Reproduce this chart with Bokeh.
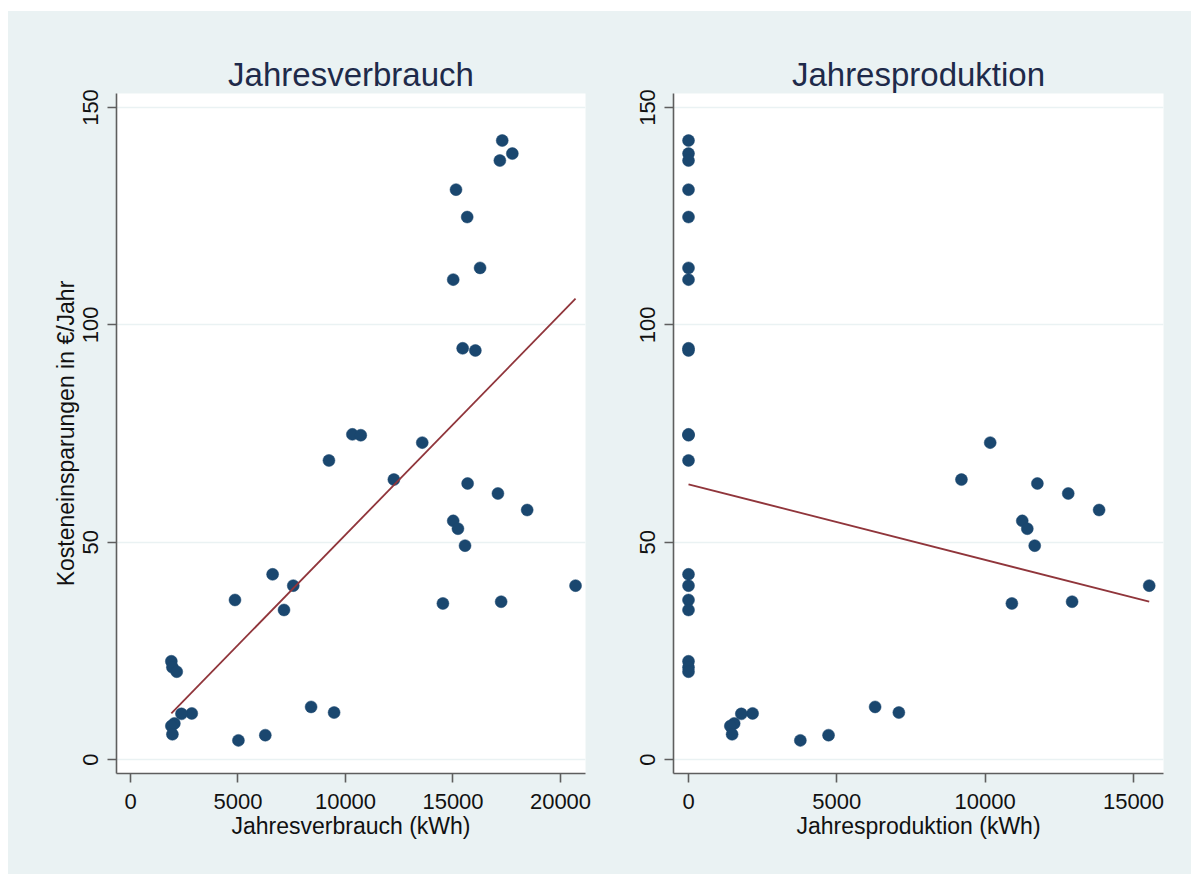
import numpy as np
from bokeh.plotting import figure
from bokeh.layouts import row, column
from bokeh.models import FixedTicker, Spacer, Range1d
from bokeh.embed import file_html
from bokeh.resources import INLINE

# ---- data ----
einsparung = [142.4, 139.4, 137.8, 131.1, 124.8, 113.1, 110.4, 94.6, 94.1,
              74.8, 74.6, 72.9, 68.8, 64.4, 63.5, 61.2, 57.4, 54.9, 53.1, 49.2,
              42.6, 40.0, 40.0, 36.7, 36.3, 35.9, 34.4, 22.6, 21.2, 20.2,
              12.1, 10.8, 10.6, 10.5, 8.3, 7.7, 5.8, 5.6, 4.4]
verbrauch = [17290, 17760, 17180, 15140, 15660, 16260, 15010, 15450, 16040,
             10320, 10710, 13570, 9230, 12250, 15680, 17090, 18450, 15010, 15230, 15560,
             6610, 7570, 20700, 4860, 17240, 14530, 7140, 1900, 1950, 2150,
             8400, 9470, 2850, 2370, 2040, 1900, 1950, 6270, 5020]
produktion = [0, 0, 0, 0, 0, 0, 0, 0, 0,
              0, 0, 10170, 0, 9200, 11760, 12800, 13840, 11250, 11420, 11670,
              0, 0, 15530, 0, 12930, 10900, 0, 0, 0, 0,
              6290, 7090, 2160, 1780, 1540, 1410, 1470, 4720, 3770]

titles = ["Jahresverbrauch", "Jahresproduktion"]
xlabels = ["Jahresverbrauch (kWh)", "Jahresproduktion (kWh)"]
ylabel = "Kosteneinsparungen in \u20ac/Jahr"
yticks = [0, 50, 100, 150]
xticks_left = [0, 5000, 10000, 15000, 20000]
xticks_right = [0, 5000, 10000, 15000]

BG = "#EAF2F3"
NAVY = "#1A476F"
MAROON = "#90353B"
FONT = "Liberation Sans"
H = 863


def panel(x, y, title, xlabel, xticks, xr, width, left, right, show_ylabel):
    p = figure(width=width, height=H, output_backend="svg", toolbar_location=None,
               x_range=Range1d(*xr), y_range=Range1d(-3.22, 153.22),
               min_border_left=left, min_border_right=right,
               min_border_top=82, min_border_bottom=H - 82 - 680)
    p.background_fill_color = "white"
    p.border_fill_color = BG
    p.outline_line_color = None

    p.title.text = title
    p.title.align = "center"
    p.title.text_font = FONT
    p.title.text_font_size = "33px"
    p.title.text_font_style = "normal"
    p.title.text_color = "#1E2A4A"
    p.title.standoff = 2

    p.xgrid.visible = False
    p.ygrid.grid_line_color = BG
    p.ygrid.grid_line_width = 1.5
    p.ygrid.ticker = FixedTicker(ticks=yticks)

    for ax in (p.xaxis[0], p.yaxis[0]):
        ax.axis_line_color = "#5E5E5E"
        ax.axis_line_width = 1.6
        ax.major_tick_line_color = "#5E5E5E"
        ax.major_tick_line_width = 1.6
        ax.major_tick_out = 9
        ax.major_tick_in = 0
        ax.minor_tick_line_color = None
        ax.major_label_text_font = FONT
        ax.major_label_text_font_size = "22px"
        ax.major_label_text_color = "#111111"
        ax.axis_label_text_font = FONT
        ax.axis_label_text_font_size = "23px"
        ax.axis_label_text_font_style = "normal"
        ax.axis_label_text_color = "#111111"

    p.xaxis.ticker = FixedTicker(ticks=xticks)
    p.xaxis.axis_label = xlabel
    p.xaxis.major_label_standoff = 11
    p.xaxis.axis_label_standoff = 1

    p.yaxis.ticker = FixedTicker(ticks=yticks)
    p.yaxis.major_label_orientation = "vertical"
    p.yaxis.major_label_standoff = 9
    if show_ylabel:
        p.yaxis.axis_label = ylabel
        p.yaxis.axis_label_standoff = 2

    xs = np.array(x, dtype=float)
    ys = np.array(y, dtype=float)
    p.scatter(xs, ys, size=12, fill_color=NAVY, line_color=NAVY, line_width=0.5)

    k, d = np.polyfit(xs, ys, 1)
    lx = np.array([xs.min(), xs.max()])
    p.line(lx, k * lx + d, line_color=MAROON, line_width=1.8)
    return p


p1 = panel(verbrauch, einsparung, titles[0], xlabels[0], xticks_left,
           (-651, 21163), 592, 108, 15, True)
p2 = panel(produktion, einsparung, titles[1], xlabels[1], xticks_right,
           (-506, 16011), 591, 73, 28, False)

charts = row(p1, p2, spacing=0, styles={"background-color": BG})
layout = column(Spacer(width=1191, height=11),
                row(Spacer(width=8, height=H), charts, spacing=0),
                spacing=0)
open("out.html", "w").write(file_html(layout, INLINE))
